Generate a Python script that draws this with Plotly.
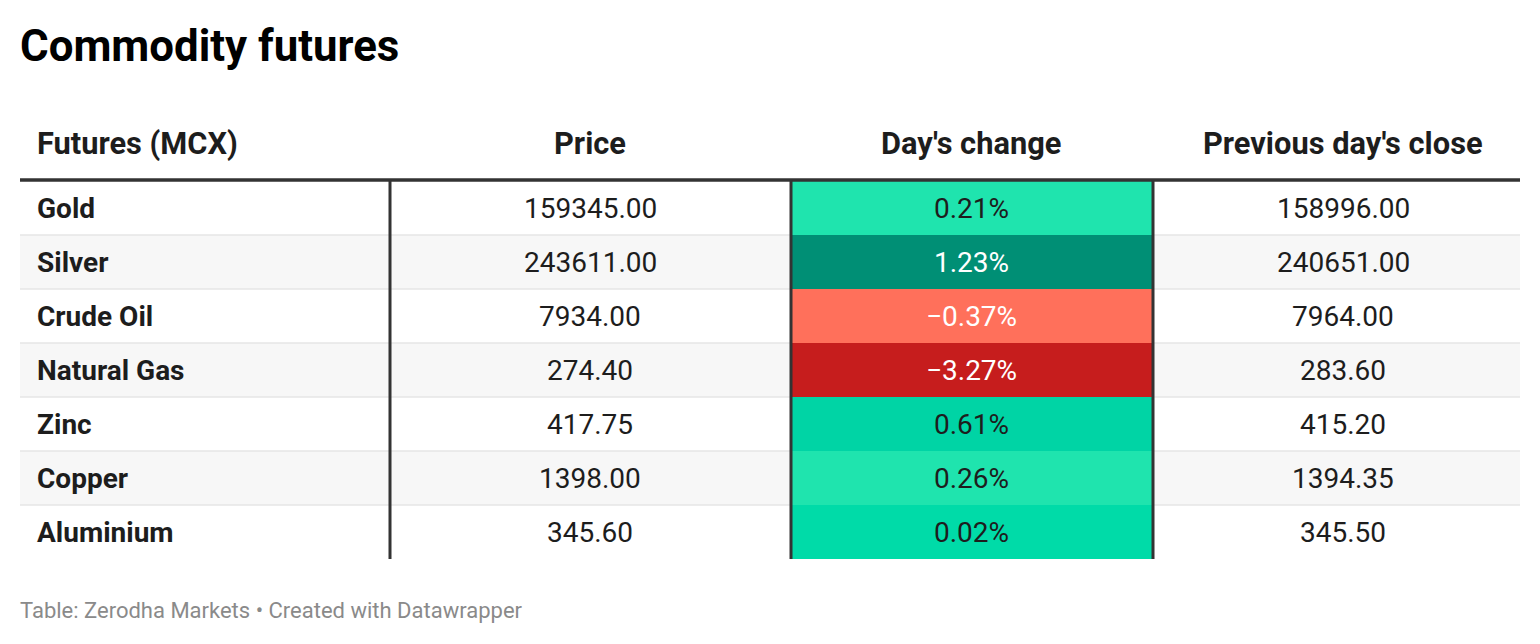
import plotly.graph_objects as go

# ---- data ----
commodities = ["Gold", "Silver", "Crude Oil", "Natural Gas", "Zinc", "Copper", "Aluminium"]
price = [159345.00, 243611.00, 7934.00, 274.40, 417.75, 1398.00, 345.60]
day_change = [0.21, 1.23, -0.37, -3.27, 0.61, 0.26, 0.02]
prev_close = [158996.00, 240651.00, 7964.00, 283.60, 415.20, 1394.35, 345.50]
headers = ["Futures (MCX)", "Price", "Day's change", "Previous day's close"]
title = "Commodity futures"
footer = "Table: Zerodha Markets • Created with Datawrapper"

# ---- styles ----
change_colors = ["#1fe4ae", "#008f75", "#ff705b", "#c61d1d", "#00d4a5", "#1fe4ae", "#00dba8"]
change_text = ["#1d1d1d", "#ffffff", "#ffffff", "#ffffff", "#1d1d1d", "#1d1d1d", "#1d1d1d"]
FONT = "Roboto"
W, H = 1540, 644
OFF = 8  # default page body margin
col_edges = [20, 390, 791, 1153, 1520]
text_x = [35, 590, 971, 1343]
row_top = 181
row_h = 54
header_y = 143
rule_y = 180

fmt_num = lambda v: f"{v:.2f}"
fmt_pct = lambda v: (f"{v:.2f}%" if v >= 0 else f"\u2212{abs(v):.2f}%")

shapes = []
annotations = []
n = len(commodities)

# row backgrounds
for i in range(n):
    y0 = row_top + i * row_h
    y1 = y0 + row_h
    bg = "#f7f7f7" if i % 2 == 1 else "#ffffff"
    shapes.append(dict(type="rect", xref="x", yref="y", x0=col_edges[0], x1=col_edges[-1],
                       y0=y0, y1=y1, fillcolor=bg, line=dict(width=0), layer="below"))
    shapes.append(dict(type="rect", xref="x", yref="y", x0=col_edges[2], x1=col_edges[3],
                       y0=y0, y1=y1, fillcolor=change_colors[i], line=dict(width=0), layer="below"))
# thin row separators
for i in range(1, n):
    y = row_top + i * row_h
    shapes.append(dict(type="line", xref="x", yref="y", x0=col_edges[0], x1=col_edges[2],
                       y0=y, y1=y, line=dict(color="#e6e6e6", width=1.5)))
    shapes.append(dict(type="line", xref="x", yref="y", x0=col_edges[3], x1=col_edges[4],
                       y0=y, y1=y, line=dict(color="#e6e6e6", width=1.5)))
# thick header rule
shapes.append(dict(type="line", xref="x", yref="y", x0=col_edges[0], x1=col_edges[-1],
                   y0=rule_y, y1=rule_y, line=dict(color="#333333", width=3.5)))
# vertical separators
for xe in col_edges[1:4]:
    shapes.append(dict(type="line", xref="x", yref="y", x0=xe, x1=xe,
                       y0=rule_y, y1=row_top + n * row_h, line=dict(color="#333333", width=3)))

# headers
for j, h in enumerate(headers):
    annotations.append(dict(x=text_x[j], y=header_y, xref="x", yref="y", text=f"<b>{h}</b>",
                            showarrow=False, xanchor="left" if j == 0 else "center", yanchor="middle",
                            font=dict(family=FONT, size=30.8, color="#1d1d1d")))

# body
for i in range(n):
    yc = row_top + i * row_h + row_h / 2
    cells = [f"<b>{commodities[i]}</b>", fmt_num(price[i]), fmt_pct(day_change[i]), fmt_num(prev_close[i])]
    colors = ["#1d1d1d", "#1d1d1d", change_text[i], "#1d1d1d"]
    for j, t in enumerate(cells):
        annotations.append(dict(x=text_x[j], y=yc, xref="x", yref="y", text=t, showarrow=False,
                                xanchor="left" if j == 0 else "center", yanchor="middle",
                                font=dict(family=FONT, size=28, color=colors[j])))

# title & footer
annotations.append(dict(x=18, y=46, xref="x", yref="y", text=f"<b>{title}</b>", showarrow=False,
                        xanchor="left", yanchor="middle", font=dict(family=FONT, size=43.8, color="#000000")))
annotations.append(dict(x=18, y=610, xref="x", yref="y", text=footer, showarrow=False,
                        xanchor="left", yanchor="middle", font=dict(family=FONT, size=22, color="#8a8a8a")))

fig = go.Figure()
fig.add_trace(go.Scatter(x=[OFF, W + OFF], y=[OFF, H + OFF], mode="markers", marker=dict(opacity=0),
                         hoverinfo="skip", showlegend=False))
fig.update_layout(
    width=W, height=H, margin=dict(l=0, r=0, t=0, b=0),
    paper_bgcolor="white", plot_bgcolor="white",
    xaxis=dict(range=[OFF, W + OFF], visible=False, fixedrange=True),
    yaxis=dict(range=[H + OFF, OFF], visible=False, fixedrange=True),
    shapes=shapes, annotations=annotations, showlegend=False,
)
fig.write_html("out.html", config={"displayModeBar": False})
